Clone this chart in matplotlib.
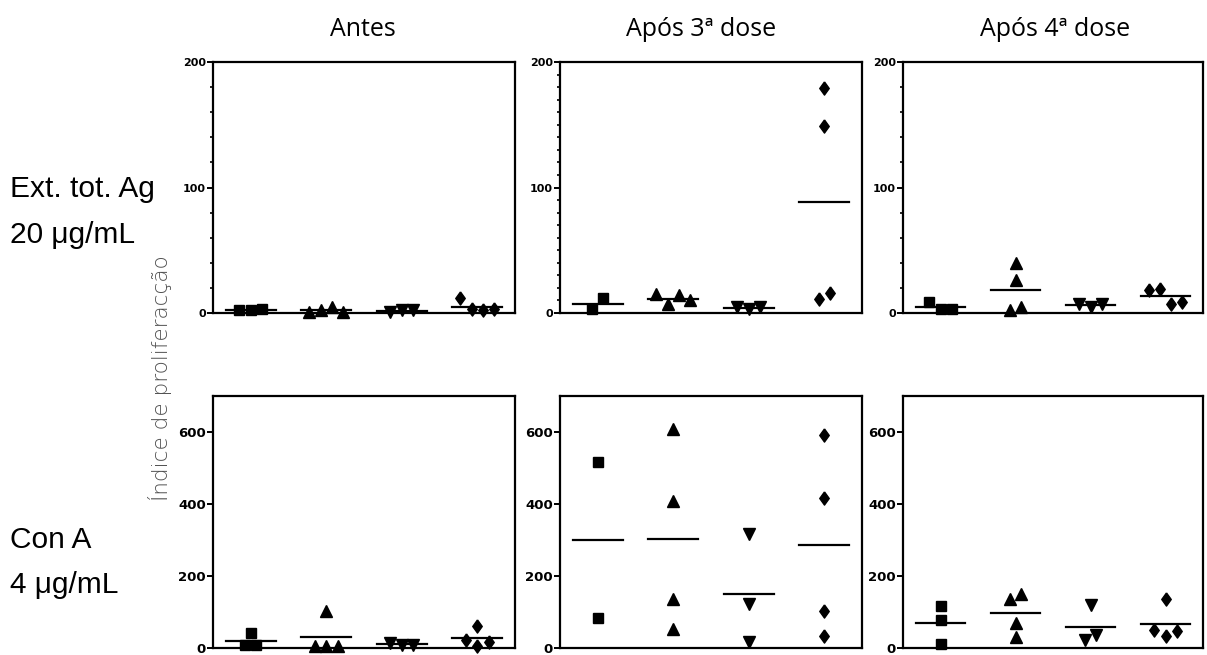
import matplotlib
matplotlib.use('Agg')
import matplotlib.pyplot as plt
import numpy as np
from matplotlib.ticker import MultipleLocator

# group order in every panel: squares, triangles, down triangles, diamonds
col_titles = ['Antes', 'Após 3ª dose', 'Após 4ª dose']
row_labels = [['Ext. tot. Ag', '20 μg/mL'], ['Con A', '4 μg/mL']]
ylabel = 'Índice de proliferacção'

# Ext. tot. Ag 20 ug/mL
ext_antes = [[2, 2, 3], [1, 2, 5, 1], [1, 2, 2], [12, 3, 2, 3]]
ext_dose3 = [[3, 12], [15, 7, 14, 10], [5, 3, 5], [179, 149, 11, 16]]
ext_dose4 = [[9, 3, 3], [40, 26, 2, 5], [7, 5, 7], [18, 19, 7, 9]]

# Con A 4 ug/mL
cona_antes = [[42, 7, 7], [103, 6, 6, 6], [14, 8, 8], [60, 22, 6, 18]]
cona_dose3 = [[516, 82], [609, 409, 135, 54], [316, 121, 17], [593, 417, 102, 33]]
cona_dose4 = [[118, 78, 12], [135, 149, 70, 30], [119, 23, 35], [135, 51, 33, 48]]

panels = [[ext_antes, ext_dose3, ext_dose4], [cona_antes, cona_dose3, cona_dose4]]
ylims = [200, 700]

# fat diamond like the original software draws
diamond = [(0, 1), (0.72, 0), (0, -1), (-0.72, 0), (0, 1)]
markers = ['s', '^', 'v', diamond]
msizes = [7, 8, 8, 9.5]


def spread(vals, px_per_unit, thr_px=12, step=0.15):
    # simple column scatter: points close in y get pushed sideways
    vals = np.asarray(vals, dtype=float)
    order = np.argsort(vals)
    offs = np.zeros(len(vals))
    clusters = [[order[0]]]
    for i in order[1:]:
        if (vals[i] - vals[clusters[-1][-1]]) * px_per_unit < thr_px:
            clusters[-1].append(i)
        else:
            clusters.append([i])
    for cl in clusters:
        cl = sorted(cl)
        k = len(cl)
        for j, idx in enumerate(cl):
            offs[idx] = (j - (k - 1) / 2) * step
    return offs


fig = plt.figure(figsize=(12.07, 6.55), dpi=100)

lefts = [213, 560, 903]
widths = [302, 302, 300]
row_box = [(62, 313), (396, 648)]
W, H = 1207, 655

for r in range(2):
    top, bot = row_box[r]
    for c in range(3):
        ax = fig.add_axes([lefts[c] / W, 1 - bot / H, widths[c] / W, (bot - top) / H])
        ppu = (bot - top) / ylims[r]
        for g, vals in enumerate(panels[r][c]):
            x0 = g + 1
            xs = x0 + spread(vals, ppu)
            ax.plot(xs, vals, linestyle='none', marker=markers[g], ms=msizes[g],
                    color='black', clip_on=False, zorder=3)
            ax.plot([x0 - 0.33, x0 + 0.33], [np.mean(vals)] * 2, color='black', lw=1.6)
        ax.set_xlim(0.5, 4.5)
        ax.set_ylim(0, ylims[r])
        ax.set_xticks([])
        for sp in ax.spines.values():
            sp.set_linewidth(1.6)
        if r == 0:
            ax.yaxis.set_major_locator(MultipleLocator(100))
            ax.yaxis.set_minor_locator(MultipleLocator(10 if c == 1 else 20))
            fs = 8
        else:
            ax.yaxis.set_major_locator(MultipleLocator(200))
            fs = 9.5
        ax.tick_params(axis='y', which='major', length=4, width=1.4, labelsize=fs, pad=1)
        ax.tick_params(axis='y', which='minor', length=2.5, width=1.2)
        for lab in ax.get_yticklabels():
            lab.set_fontfamily(['Liberation Sans Narrow', 'DejaVu Sans'])
            lab.set_fontweight('bold')

title_x = [363, 701, 1055]
for c in range(3):
    fig.text(title_x[c] / W, 1 - 36 / H, col_titles[c], ha='center', va='baseline',
             fontsize=18, family='Open Sans')

label_y = [(197, 243), (548, 593)]
for r in range(2):
    for k in range(2):
        fig.text(10 / W, 1 - label_y[r][k] / H, row_labels[r][k], ha='left', va='baseline',
                 fontsize=21.5, family='Liberation Sans')

fig.text(160 / W, 1 - 378 / H, ylabel, rotation=90, ha='center', va='center',
         fontsize=15.5, color='#505050', family='DejaVu Sans', fontweight='light')

fig.savefig('out.png', dpi=100)
